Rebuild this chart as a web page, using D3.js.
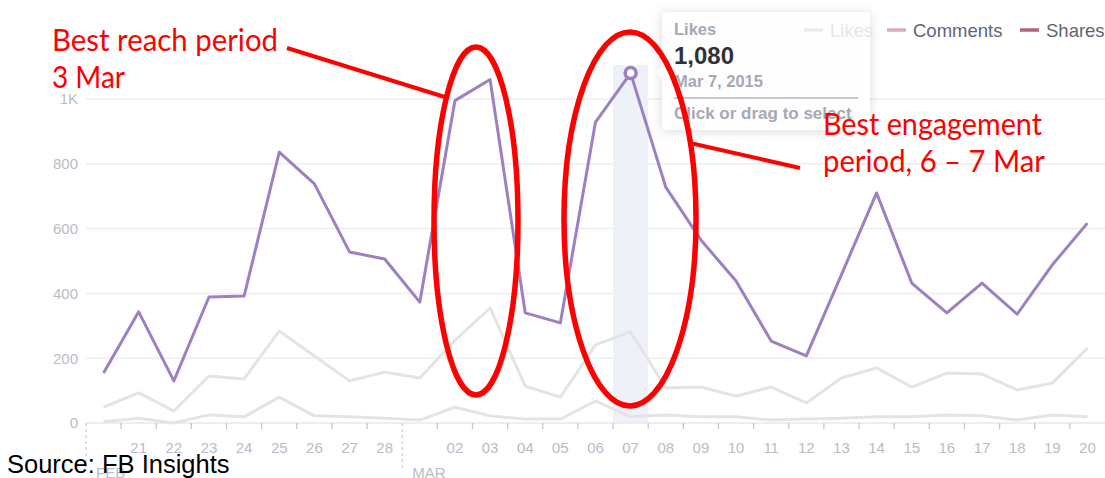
<!DOCTYPE html>
<html>
<head>
<meta charset="utf-8">
<script src="https://cdn.jsdelivr.net/npm/d3@7"></script>
<style>
  html, body { margin: 0; padding: 0; background: #fff; }
  svg { display: block; }
</style>
</head>
<body>
<svg id="chart" width="1105" height="478"></svg>
<script>
// days shown on the x axis (20 Feb - 20 Mar 2015)
const dates = [
  "2015-02-20","2015-02-21","2015-02-22","2015-02-23","2015-02-24","2015-02-25","2015-02-26","2015-02-27","2015-02-28",
  "2015-03-01","2015-03-02","2015-03-03","2015-03-04","2015-03-05","2015-03-06","2015-03-07","2015-03-08","2015-03-09","2015-03-10",
  "2015-03-11","2015-03-12","2015-03-13","2015-03-14","2015-03-15","2015-03-16","2015-03-17","2015-03-18","2015-03-19","2015-03-20"
];
const likes    = [154,343,130,389,392,836,738,528,506,373,995,1060,340,309,929,1080,728,565,438,253,207,458,710,432,340,432,336,488,617];
const comments = [49,93,37,145,136,284,207,130,157,139,255,355,114,80,241,281,108,111,83,111,62,139,170,111,154,151,102,123,231];
const shares   = [4,15,0,25,19,80,22,19,15,9,49,22,12,12,68,19,25,19,19,9,12,15,19,19,25,22,9,25,19];
const yTicks = [0, 200, 400, 600, 800, 1000];
const legendItems = ["Likes", "Comments", "Shares"];
const legendColors = ["#ecebf1", "#d8abbb", "#b6617f"];
const hoverDate = "2015-03-07";
const hoverValue = 1080;

const svg = d3.select("#chart");
const parse = d3.timeParse("%Y-%m-%d");

var x = d3.scaleBand().domain(dates).range([86, 1105]).padding(0);
var y = d3.scaleLinear().domain([0, 1000]).range([423, 99]);
var cx = function (d) { return x(d) + x.bandwidth() / 2; };

// horizontal grid
svg.append("g").selectAll("line")
  .data(yTicks.slice(1))
  .enter().append("line")
  .attr("x1", 86).attr("x2", 1105)
  .attr("y1", d => y(d)).attr("y2", d => y(d))
  .attr("stroke", "#eeeef0").attr("stroke-width", 1.5);

// y labels
var yAxis = d3.axisLeft(y).tickValues(yTicks).tickSize(0).tickPadding(0)
  .tickFormat(d => d >= 1000 ? (d / 1000) + "K" : d);
var gy = svg.append("g").attr("transform", "translate(78,0)").call(yAxis);
gy.select(".domain").remove();
gy.selectAll("text").attr("fill", "#b9bcc7").attr("font-family", "Liberation Sans, Arial, sans-serif").attr("font-size", 15);

// hovered day highlight
svg.append("rect")
  .attr("x", x(hoverDate)).attr("y", 65)
  .attr("width", x.bandwidth()).attr("height", 423 - 65)
  .attr("fill", "#eef1f7");

// x axis line
svg.append("line").attr("x1", 86).attr("x2", 1105).attr("y1", 423).attr("y2", 423)
  .attr("stroke", "#e8e9ee").attr("stroke-width", 1.5);

// tick marks at day boundaries, dashed at month starts
dates.forEach(function (d, i) {
  var dt = parse(d);
  var bx = x(d);
  if (i === 0 || dt.getDate() === 1) {
    svg.append("line").attr("x1", bx).attr("x2", bx).attr("y1", 423).attr("y2", 470)
      .attr("stroke", "#c4c7d0").attr("stroke-width", 1).attr("stroke-dasharray", "3,3");
    svg.append("text").attr("x", bx + 10).attr("y", 478)
      .attr("fill", "#b9bcc7").attr("font-family", "Liberation Sans, Arial, sans-serif").attr("font-size", 15)
      .text(d3.timeFormat("%b")(dt).toUpperCase());
  } else {
    svg.append("line").attr("x1", bx).attr("x2", bx).attr("y1", 423).attr("y2", 429)
      .attr("stroke", "#c4c7d0").attr("stroke-width", 1.3);
    svg.append("text").attr("x", cx(d)).attr("y", 453).attr("text-anchor", "middle")
      .attr("fill", "#b9bcc7").attr("font-family", "Liberation Sans, Arial, sans-serif").attr("font-size", 15)
      .text(d3.timeFormat("%d")(dt));
  }
});

// series lines
var line = function (vals) {
  return d3.line().x((d, i) => cx(dates[i])).y(d => y(d))(vals);
};
svg.append("path").attr("d", line(shares)).attr("fill", "none").attr("stroke", "#e4e4e6").attr("stroke-width", 3).attr("stroke-linejoin", "round");
svg.append("path").attr("d", line(comments)).attr("fill", "none").attr("stroke", "#e4e4e6").attr("stroke-width", 3).attr("stroke-linejoin", "round");
svg.append("path").attr("d", line(likes)).attr("fill", "none").attr("stroke", "#9d80c1").attr("stroke-width", 3).attr("stroke-linejoin", "round");

// hover marker
svg.append("circle").attr("cx", cx(hoverDate)).attr("cy", y(hoverValue)).attr("r", 5.5)
  .attr("fill", "#fff").attr("stroke", "#9d80c1").attr("stroke-width", 3.5);

// tooltip
var defs = svg.append("defs");
var f = defs.append("filter").attr("id", "shadow").attr("x", "-20%").attr("y", "-20%").attr("width", "140%").attr("height", "140%");
f.append("feDropShadow").attr("dx", 0).attr("dy", 1).attr("stdDeviation", 6).attr("flood-color", "#000").attr("flood-opacity", 0.15);
var tip = svg.append("g").attr("font-family", "Liberation Sans, Arial, sans-serif").attr("font-weight", "bold");
tip.append("rect").attr("x", 662).attr("y", 12).attr("width", 208).attr("height", 118).attr("rx", 4)
  .attr("fill", "#fff").attr("fill-opacity", 0.95).attr("filter", "url(#shadow)");
tip.append("path").attr("d", "M662,66 L656,72 L662,78 Z").attr("fill", "#fff");
tip.append("text").attr("x", 674).attr("y", 35).attr("font-size", 16.5).attr("fill", "#a6a9b4").text("Likes");
tip.append("text").attr("x", 674).attr("y", 64).attr("font-size", 24).attr("fill", "#2f3137").text(d3.format(",")(hoverValue));
tip.append("text").attr("x", 674).attr("y", 87).attr("font-size", 16.5).attr("fill", "#a6a9b4")
  .text(d3.timeFormat("%b %-d, %Y")(parse(hoverDate)));
tip.append("line").attr("x1", 674).attr("x2", 858).attr("y1", 98).attr("y2", 98).attr("stroke", "#b3b6c0").attr("stroke-width", 1.5);
tip.append("text").attr("x", 674).attr("y", 119).attr("font-size", 17).attr("fill", "#a6a9b4").text("Click or drag to select");

// legend (drawn over the tooltip, as in the screenshot)
var lg = svg.append("g").attr("font-family", "Liberation Sans, Arial, sans-serif").attr("font-size", 18.5);
var legX = [804, 887, 1020];
legendItems.forEach(function (name, i) {
  lg.append("line").attr("x1", legX[i]).attr("x2", legX[i] + 19).attr("y1", 30).attr("y2", 30)
    .attr("stroke", legendColors[i]).attr("stroke-width", 3.5);
  lg.append("text").attr("x", legX[i] + 26).attr("y", 37)
    .attr("fill", i === 0 ? "#e6e6ec" : "#5f6577").text(name);
});

// red annotations
var red = "#ff0000";
var ann = svg.append("g").attr("fill", "none").attr("stroke", red);
ann.append("ellipse").attr("cx", 476).attr("cy", 221).attr("rx", 42).attr("ry", 174).attr("stroke-width", 5.5);
ann.append("ellipse").attr("cx", 630).attr("cy", 219).attr("rx", 66).attr("ry", 187).attr("stroke-width", 5.5);
ann.append("line").attr("x1", 287).attr("y1", 48).attr("x2", 448).attr("y2", 98).attr("stroke-width", 4);
ann.append("line").attr("x1", 690).attr("y1", 143).attr("x2", 800).attr("y2", 168).attr("stroke-width", 4);

var at = svg.append("g").attr("fill", red).attr("font-family", "Lato, 'Open Sans', sans-serif").attr("font-size", 31);
at.append("text").attr("x", 52).attr("y", 51).attr("textLength", 226).attr("lengthAdjust", "spacingAndGlyphs").text("Best reach period");
at.append("text").attr("x", 52).attr("y", 88).attr("textLength", 73).attr("lengthAdjust", "spacingAndGlyphs").text("3 Mar");
at.append("text").attr("x", 823).attr("y", 135).attr("textLength", 219).attr("lengthAdjust", "spacingAndGlyphs").text("Best engagement");
at.append("text").attr("x", 823).attr("y", 172).attr("textLength", 222).attr("lengthAdjust", "spacingAndGlyphs").text("period, 6 \u2013 7 Mar");

// source
svg.append("text").attr("x", 7).attr("y", 473)
  .attr("font-family", "Liberation Sans, Arial, sans-serif").attr("font-size", 25.5).attr("fill", "#000")
  .text("Source: FB Insights");
</script>
</body>
</html>
